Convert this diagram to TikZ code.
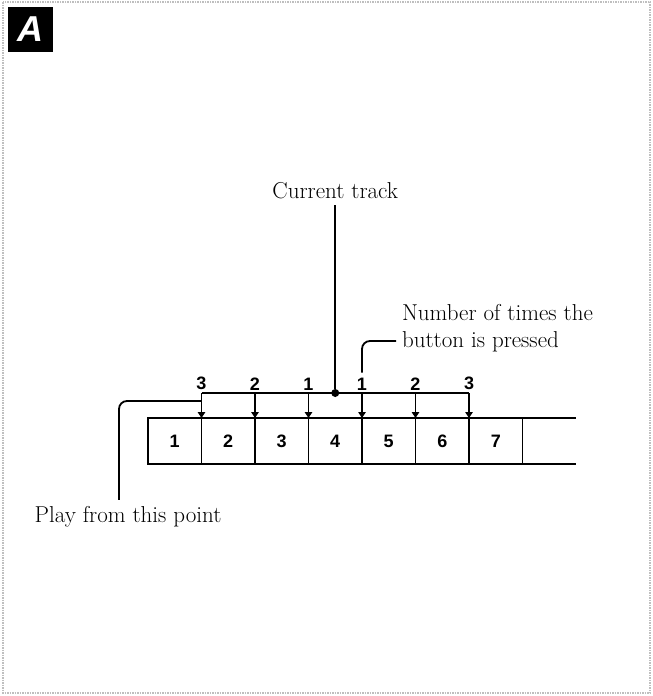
\documentclass[tikz,border=0pt]{standalone}
\usepackage{fontspec}
\newfontfamily\numfont{Liberation Sans}
\usetikzlibrary{arrows.meta, positioning, calc}

\begin{document}
\begin{tikzpicture}[x=1pt, y=-1pt,
	every node/.style={inner sep=0pt, outer sep=0pt},
	cell/.style={rectangle, draw, line width=1.3pt, minimum width=53.5pt, minimum height=46pt, font=\numfont\bfseries\fontsize{18}{18}\selectfont},
	count/.style={font=\numfont\bfseries\fontsize{18}{18}\selectfont, inner sep=2pt},
	caption/.style={font=\fontsize{23}{27}\selectfont, inner sep=6pt},
	badge/.style={fill=black, text=white, minimum size=45pt, font=\numfont\bfseries\itshape\fontsize{36}{36}\selectfont},
	arrow/.style={line width=1.2pt, -{Triangle[width=7.5pt,length=6pt]}},
	lead/.style={line width=1.8pt, rounded corners=8pt},
	dot/.style={circle, fill, minimum size=8pt}
	]
	
	% Frame
	\useasboundingbox (0,0) rectangle (653,696);
	\draw[gray!50, line width=1.5pt, densely dotted] (3,2) rectangle (650,693);
	\node[badge] (tag) at (30.5,29.5) {A};
	
	% Track cells
	\node[cell] (c1) at (174.75,441) {1};
	\node[cell, right=0pt of c1] (c2) {2};
	\node[cell, right=0pt of c2] (c3) {3};
	\node[cell, right=0pt of c3] (c4) {4};
	\node[cell, right=0pt of c4] (c5) {5};
	\node[cell, right=0pt of c5] (c6) {6};
	\node[cell, right=0pt of c6] (c7) {7};
	\node[cell, draw=none, right=0pt of c7] (c8) {};
	\draw[line width=1.3pt] (c8.north west) -- (c8.north east) (c8.south west) -- (c8.south east);
	
	% Marks over the cells
	\coordinate (m2) at ($(c2.north west)+(0,-25)$);
	\coordinate (m3) at ($(c3.north west)+(0,-25)$);
	\coordinate (m4) at ($(c4.north west)+(0,-25)$);
	\coordinate (m5) at ($(c5.north west)+(0,-25)$);
	\coordinate (m6) at ($(c6.north west)+(0,-25)$);
	\coordinate (m7) at ($(c7.north west)+(0,-25)$);
	\draw[line width=2pt] (m2) -- (m7);
	\node[dot] (cur) at ($(c4.north)+(0,-25)$) {};
	
	% Arrows
	\draw[arrow] (m2) -- (c2.north west);
	\draw[arrow] (m3) -- (c3.north west);
	\draw[arrow] (m4) -- (c4.north west);
	\draw[arrow] (m5) -- (c5.north west);
	\draw[arrow] (m6) -- (c6.north west);
	\draw[arrow] (m7) -- (c7.north west);
	
	% Counts
	\node[count, above=1pt of m2] (n2) {3};
	\node[count, above=1pt of m3] (n3) {2};
	\node[count, above=1pt of m4] (n4) {1};
	\node[count, above=1pt of m5] (n5) {1};
	\node[count, above=1pt of m6] (n6) {2};
	\node[count, above=1pt of m7] (n7) {3};
	
	% Labels
	\node[caption, above=184pt of cur] (current) {Current track};
	\draw[lead] (current) -- (cur);
	
	\node[caption, anchor=base] (play) at (128,522) {Play from this point};
	\coordinate (join) at ($(c2.north west)+(0,-17)$);
	\draw[lead] (join) -| ([xshift=-9pt]play.north);
	
	\node[caption, align=left, anchor=west] (times) at (396,328) {Number of times the\\button is pressed};
	\draw[lead, shorten <=3pt] (n5) |- ([yshift=-13pt]times.west);
\end{tikzpicture}
\end{document}
